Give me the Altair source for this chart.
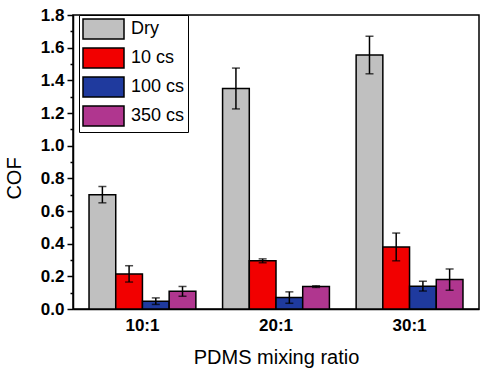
import altair as alt
import pandas as pd

ratios = ["10:1", "20:1", "30:1"]
series = ["Dry", "10 cs", "100 cs", "350 cs"]
colors = ["#c0c0c0", "#f20000", "#1f3a9e", "#b0368f"]

dry = [0.70, 1.35, 1.555]
dry_err = [0.05, 0.125, 0.115]
cs10 = [0.215, 0.295, 0.38]
cs10_err = [0.05, 0.012, 0.085]
cs100 = [0.048, 0.07, 0.14]
cs100_err = [0.02, 0.035, 0.03]
cs350 = [0.108, 0.137, 0.18]
cs350_err = [0.03, 0.005, 0.065]

y_tick_values = [0.0, 0.1, 0.2, 0.3, 0.4, 0.5, 0.6, 0.7, 0.8, 0.9,
                 1.0, 1.1, 1.2, 1.3, 1.4, 1.5, 1.6, 1.7, 1.8]

rows = []
for s, vals, errs in [("Dry", dry, dry_err), ("10 cs", cs10, cs10_err),
                      ("100 cs", cs100, cs100_err), ("350 cs", cs350, cs350_err)]:
    for r, v, e in zip(ratios, vals, errs):
        rows.append({"ratio": r, "series": s, "cof": v,
                     "lo": v - e, "hi": v + e})
df = pd.DataFrame(rows)

FONT = "Liberation Sans"
MAJOR = "round(datum.value*10) % 2 === 0"

x_axis = alt.Axis(title="PDMS mixing ratio", labelAngle=0, ticks=False,
                  labelPadding=8, titlePadding=14)
y_axis = alt.Axis(title="COF", values=y_tick_values, grid=False,
                  labelOverlap=False, labelFlush=False, labelBound=False,
                  labelExpr=MAJOR + " ? format(datum.value, '.1f') : ''",
                  tickSize={"condition": {"test": MAJOR, "value": 6}, "value": 3},
                  labelPadding=3, titlePadding=16, titleY=163)
x_scale = alt.Scale(paddingInner=0.2, paddingOuter=0.12)
y_scale = alt.Scale(domain=[0, 1.8], nice=False, zero=True)


def xenc():
    return alt.X("ratio:N", sort=ratios, scale=x_scale, axis=x_axis)


def xoenc():
    return alt.XOffset("series:N", sort=series, scale=alt.Scale(paddingInner=0, paddingOuter=0))


bars = alt.Chart(df).mark_bar(stroke="black", strokeWidth=1.5).encode(
    x=xenc(),
    xOffset=xoenc(),
    y=alt.Y("cof:Q", scale=y_scale, axis=y_axis),
    color=alt.Color("series:N", sort=series,
                    scale=alt.Scale(domain=series, range=colors),
                    legend=alt.Legend(title=None, orient="none", legendX=6, legendY=0,
                                      symbolType="M-1,-1H3.1V1H-1Z", symbolSize=400,
                                      symbolStrokeColor="black", symbolStrokeWidth=1.5,
                                      labelFontSize=18, labelFont=FONT, labelColor="black",
                                      labelOffset=27, rowPadding=3, padding=3,
                                      strokeColor="black", fillColor="white")),
)

rules = alt.Chart(df).mark_rule(color="black", strokeWidth=1.5).encode(
    x=xenc(),
    xOffset=xoenc(),
    y=alt.Y("lo:Q", scale=y_scale, axis=y_axis),
    y2="hi:Q",
)
caps_hi = alt.Chart(df).mark_tick(color="black", thickness=1.5, size=8).encode(
    x=xenc(),
    xOffset=xoenc(),
    y=alt.Y("hi:Q", scale=y_scale, axis=y_axis),
)
caps_lo = alt.Chart(df).mark_tick(color="black", thickness=1.5, size=8).encode(
    x=xenc(),
    xOffset=xoenc(),
    y=alt.Y("lo:Q", scale=y_scale, axis=y_axis),
)

chart = alt.layer(bars, rules, caps_hi, caps_lo).properties(
    width=406, height=294,
    autosize=alt.AutoSizeParams(type="none"),
    padding={"left": 73, "top": 15, "right": 8, "bottom": 66},
    background="white",
).configure_view(
    stroke="black", strokeWidth=1.5
).configure_axis(
    domainColor="black", domainWidth=1.5, tickColor="black", tickWidth=1.5,
    labelFont=FONT, labelFontSize=17, labelFontWeight="bold", labelColor="black",
    titleFont=FONT, titleFontSize=20, titleFontWeight="normal", titleColor="black",
)

chart.save("out.html", embed_options={"renderer": "svg", "actions": False})
